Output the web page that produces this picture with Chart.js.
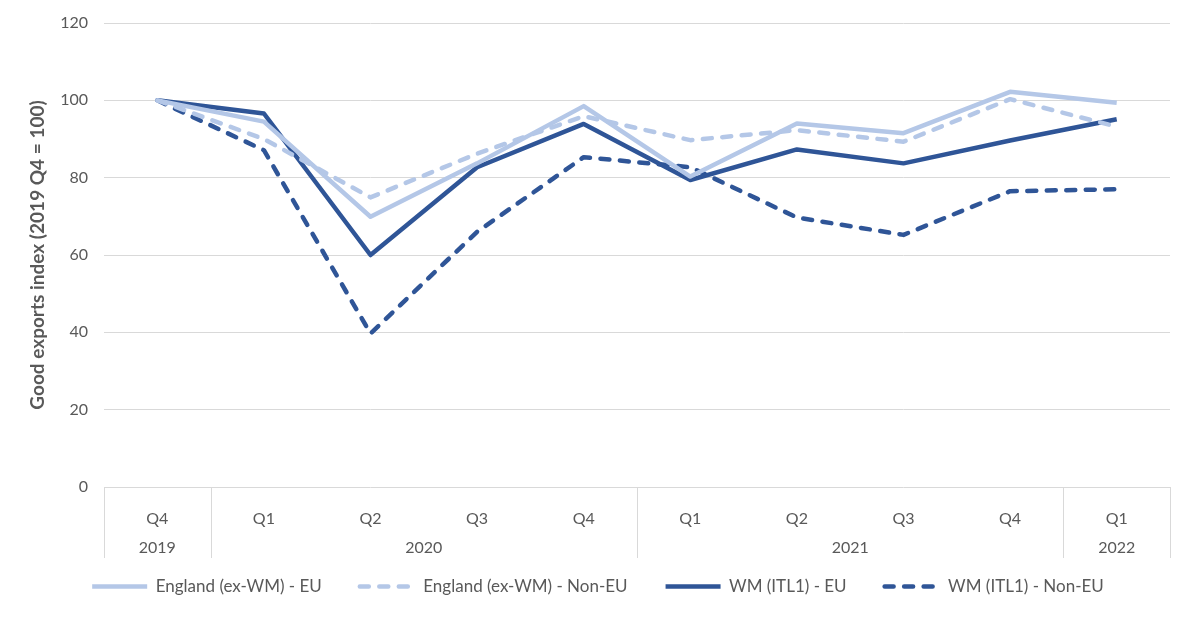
<!DOCTYPE html>
<html>
<head>
<meta charset="utf-8">
<script src="https://cdn.jsdelivr.net/npm/chart.js@4.4.1/dist/chart.umd.min.js"></script>
<style>
  html, body { margin: 0; padding: 0; background: #fff; }
  #wrap { width: 1194px; height: 618px; }
</style>
</head>
<body>
<div id="wrap"><canvas id="chart"></canvas></div>
<script>
const quarters = ["Q4", "Q1", "Q2", "Q3", "Q4", "Q1", "Q2", "Q3", "Q4", "Q1"];
const years = ["2019", "2020", "2020", "2020", "2020", "2021", "2021", "2021", "2021", "2022"];

const englandEU = [100, 94.5, 69.9, 83.7, 98.5, 80.3, 94.0, 91.5, 102.2, 99.4];
const englandNonEU = [100, 90.0, 74.9, 86.2, 95.9, 89.7, 92.3, 89.3, 100.3, 93.2];
const wmEU = [100, 96.6, 60.0, 82.7, 93.9, 79.4, 87.3, 83.7, 89.6, 95.1];
const wmNonEU = [100, 87.1, 39.7, 66.0, 85.3, 82.7, 69.7, 65.2, 76.5, 77.0];

const yTicks = [0, 20, 40, 60, 80, 100, 120];

const LIGHT = "#b4c7e7";
const DARK = "#2f5597";
const TEXT = "#595959";
const GRID = "#d9d9d9";
const FONT = "Lato, 'Open Sans', sans-serif";

const AXIS_H = 71;   // depth of the two-row category axis
const LEGEND_H = 78; // legend box height

// draws the year row and the group separators under the quarter labels
const yearAxisPlugin = {
    id: "yearAxis",
    beforeInit(chart) {
        const fit = chart.legend.fit;
        chart.legend.fit = function () {
            fit.call(this);
            this.height = LEGEND_H;
        };
    },
    afterDraw(chart) {
        const ctx = chart.ctx;
        const x = chart.scales.x;
        const area = chart.chartArea;
        const bottom = area.bottom + AXIS_H;

        const groups = [];
        years.forEach((yr, i) => {
            const last = groups[groups.length - 1];
            if (last && last.label === yr) last.end = i;
            else groups.push({ label: yr, start: i, end: i });
        });

        const half = (x.getPixelForValue(1) - x.getPixelForValue(0)) / 2;

        ctx.save();
        ctx.strokeStyle = GRID;
        ctx.lineWidth = 1;
        const edges = [area.left];
        groups.forEach(g => edges.push(x.getPixelForValue(g.end) + half));
        edges.forEach(px => {
            const xx = Math.round(px) + 0.5;
            ctx.beginPath();
            ctx.moveTo(xx, area.bottom);
            ctx.lineTo(xx, bottom);
            ctx.stroke();
        });

        ctx.fillStyle = TEXT;
        ctx.font = "16px " + FONT;
        ctx.textAlign = "center";
        ctx.textBaseline = "middle";
        groups.forEach(g => {
            const cx = (x.getPixelForValue(g.start) + x.getPixelForValue(g.end)) / 2;
            ctx.fillText(g.label, cx, area.bottom + 61);
        });
        ctx.restore();
    }
};

function lineSet(label, data, color, dashed) {
    return {
        label: label,
        data: data,
        borderColor: color,
        backgroundColor: color,
        borderWidth: 4.5,
        borderDash: dashed ? [9, 10.5] : [],
        borderCapStyle: dashed ? "round" : "butt",
        borderJoinStyle: "round",
        pointRadius: 0,
        pointHoverRadius: 0,
        tension: 0,
        fill: false
    };
}

new Chart(document.getElementById("chart"), {
    type: "line",
    data: {
        labels: quarters,
        datasets: [
            lineSet("England (ex-WM) - EU", englandEU, LIGHT, false),
            lineSet("England (ex-WM) - Non-EU", englandNonEU, LIGHT, true),
            lineSet("WM (ITL1) - EU", wmEU, DARK, false),
            lineSet("WM (ITL1) - Non-EU", wmNonEU, DARK, true)
        ]
    },
    options: {
        responsive: true,
        maintainAspectRatio: false,
        animation: false,
        layout: {
            padding: { left: 26, right: 24, top: 23, bottom: 0 }
        },
        scales: {
            x: {
                offset: true,
                grid: { display: false },
                border: { display: false },
                ticks: {
                    color: TEXT,
                    font: { family: FONT, size: 16 },
                    padding: 14,
                    maxRotation: 0,
                    autoSkip: false
                },
                afterFit(scale) {
                    scale.height = 618 - 487 - LEGEND_H;
                }
            },
            y: {
                min: 0,
                max: 120,
                afterBuildTicks(scale) {
                    scale.ticks = yTicks.map(v => ({ value: v }));
                },
                grid: { color: GRID, lineWidth: 1, drawTicks: false },
                border: { display: false },
                ticks: {
                    color: TEXT,
                    font: { family: FONT, size: 16 },
                    padding: 16
                },
                title: {
                    display: true,
                    text: "Good exports index (2019 Q4 = 100)",
                    color: TEXT,
                    font: { family: FONT, size: 19, weight: "bold" },
                    padding: 0
                },
                afterFit(scale) {
                    scale.width = 78;
                    scale.paddingTop = 0;
                    scale.paddingBottom = 0;
                }
            }
        },
        plugins: {
            legend: {
                position: "bottom",
                labels: {
                    usePointStyle: true,
                    pointStyle: "line",
                    pointStyleWidth: 55,
                    color: TEXT,
                    font: { family: FONT, size: 17 },
                    padding: 38,
                    generateLabels(chart) {
                        const items = Chart.defaults.plugins.legend.labels.generateLabels(chart);
                        items.forEach(item => {
                            const ds = chart.data.datasets[item.datasetIndex];
                            item.lineDash = ds.borderDash;
                            item.lineCap = ds.borderCapStyle;
                            item.lineWidth = 4.5;
                            item.strokeStyle = ds.borderColor;
                        });
                        return items;
                    }
                }
            },
            tooltip: { enabled: false }
        }
    },
    plugins: [yearAxisPlugin]
});
</script>
</body>
</html>
